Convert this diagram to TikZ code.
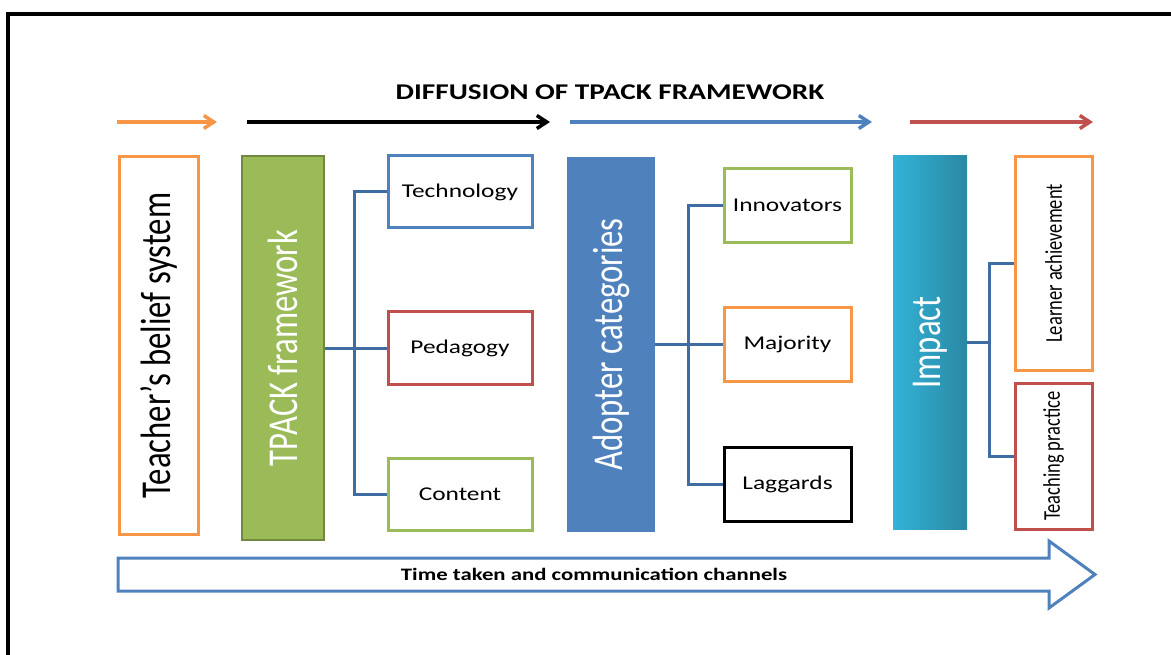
\documentclass[tikz,border=0pt]{standalone}
\usepackage{graphicx}
\usepackage{fontspec}
\setmainfont{Carlito}
\newfontfamily\widecal[FakeStretch=1.3]{Carlito}
\newfontfamily\tallcal[FakeStretch=0.77]{Carlito}
\usetikzlibrary{arrows.meta}

\definecolor{borange}{HTML}{F79646}
\definecolor{bgreen}{HTML}{9BBB59}
\definecolor{bgreendk}{HTML}{71893F}
\definecolor{bblue}{HTML}{4F81BD}
\definecolor{bred}{HTML}{C0504D}
\definecolor{linkblue}{HTML}{3F6CA3}
\definecolor{tealL}{HTML}{33B3D8}
\definecolor{tealR}{HTML}{2A88A3}

\newcommand{\bigtxt}{\tallcal\fontsize{42.5}{44}\selectfont}
\newcommand{\thintxt}{\tallcal\fontsize{24}{26}\selectfont}

\tikzset{
  outbox/.style={draw, line width=3pt, fill=white, inner sep=0pt,
    font=\widecal\fontsize{19.5}{22}\selectfont},
  bigbar/.style={inner sep=0pt, text=white},
  link/.style={draw=linkblue, line width=3pt},
  toparrow/.style={line width=3.5pt, -{Straight Barb[length=10pt,width=13pt]}},
}

\begin{document}
\begin{tikzpicture}[x=1pt, y=-1pt, line join=miter]
  \useasboundingbox (0,0) rectangle (1171,655);
  % frame
  \draw[line width=4pt] (8,655) -- (8,14) -- (1171,14);

  % heading and the four arrows under it
  \node[font=\widecal\bfseries\fontsize{22.5}{24}\selectfont] (title) at (610,92) {DIFFUSION OF TPACK FRAMEWORK};
  \foreach \c/\a/\b in {borange/117/217, black/247/550, bblue/570/872, bred/910/1093}
    \draw[toparrow, \c] (\a,122) -- (\b,122);

  % beliefs
  \node[outbox, draw=borange, minimum width=79pt, minimum height=378pt] (belief) at (158.5,345.5) {\rotatebox{90}{\bigtxt Teacher’s belief system}};

  % TPACK
  \node[bigbar, fill=bgreen, draw=bgreendk, line width=2pt, minimum width=82pt, minimum height=384pt] (tpack) at (283,348) {\rotatebox{90}{\bigtxt TPACK framework}};
  \node[outbox, draw=bblue, minimum width=144pt, minimum height=72pt] (tech) at (460,192) {Technology};
  \node[outbox, draw=bred, minimum width=144pt, minimum height=72pt] (peda) at (460,348) {Pedagogy};
  \node[outbox, draw=bgreen, minimum width=144pt, minimum height=72pt] (cont) at (460,494) {Content};
  \draw[link] (tech.west) -- ++(-32,0) |- (cont.west);
  \draw[link] (tpack.east) -- (peda.west);

  % adopters
  \node[bigbar, fill=bblue, minimum width=88pt, minimum height=375pt] (adopt) at (611,344.5) {\rotatebox{90}{\bigtxt Adopter categories}};
  \node[outbox, draw=bgreen, minimum width=127pt, minimum height=74pt] (innov) at (787.5,205.5) {Innovators};
  \node[outbox, draw=borange, minimum width=127pt, minimum height=74pt] (major) at (787.5,344.5) {Majority};
  \node[outbox, draw=black, minimum width=127pt, minimum height=74pt] (lagg) at (787.5,484) {Laggards};
  \draw[link] (innov.west) -- ++(-34,0) |- (lagg.west);
  \draw[link] (adopt.east) -- (major.west);

  % impact
  \node[bigbar, left color=tealL, right color=tealR, minimum width=74pt, minimum height=373pt] (impact) at (930,342.5) {\rotatebox{90}{\bigtxt Impact}};
  \node[outbox, draw=borange, minimum width=77pt, minimum height=213pt] (learn) at (1053.5,263.5) {\rotatebox{90}{\thintxt Learner achievement}};
  \node[outbox, draw=bred, minimum width=77pt, minimum height=146pt] (teach) at (1053.5,456) {\rotatebox{90}{\thintxt Teaching practice}};
  \draw[link] (learn.west) -- ++(-24,0) coordinate (ij) |- (teach.west);
  \draw[link] (impact.east) -- (impact.east -| ij);

  % time line
  \draw[bblue, line width=3pt, fill=white] (118,558) -- (1049,558) -- (1049,541) -- (1095,574.5) -- (1049,608) -- (1049,591) -- (118,591) -- cycle;
  \node[font=\widecal\bfseries\fontsize{17.5}{19}\selectfont] (channels) at (594,574.5) {Time taken and communication channels};
\end{tikzpicture}
\end{document}
